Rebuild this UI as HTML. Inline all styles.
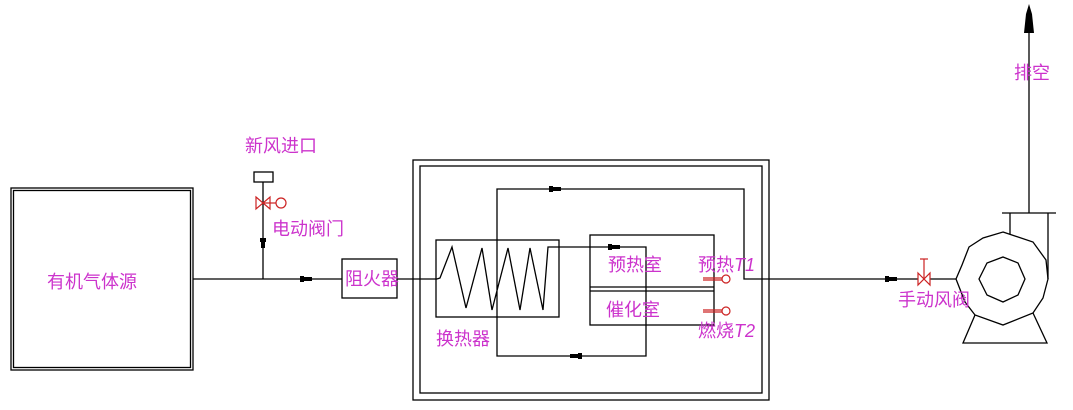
<!DOCTYPE html>
<html><head><meta charset="utf-8"><style>
html,body{margin:0;padding:0;background:#fff;width:1073px;height:410px;overflow:hidden}
text{font-family:"Liberation Sans","Noto Sans CJK SC","WenQuanYi Zen Hei",sans-serif;fill:#cc33cc;font-size:18px}
</style></head><body>
<svg width="1073" height="410" viewBox="0 0 1073 410" xmlns="http://www.w3.org/2000/svg">
<g fill="none" stroke="#000" stroke-width="1.3">
<rect x="11" y="188" width="182" height="182"/>
<rect x="13.5" y="190.5" width="177" height="177"/>
<line x1="193" y1="279" x2="342" y2="279"/>
<rect x="342" y="259" width="55" height="39"/>
<line x1="397" y1="279" x2="437" y2="279"/>
<line x1="263" y1="182" x2="263" y2="279"/>
<rect x="254" y="172" width="19" height="10"/>
<rect x="413" y="160" width="356" height="240"/>
<rect x="420" y="166" width="342" height="227"/>
<rect x="436" y="240" width="123" height="77"/>
<polyline points="437,279 440,278 452,247 466,308 482,248 492,310 508,248 520,310 530,248 543,310 548,247 646,247 646,356 497,356 497,189 744,189 744,279 918,279"/>
<rect x="590" y="235" width="124" height="90"/>
<line x1="590" y1="287" x2="714" y2="287"/>
<line x1="590" y1="291" x2="714" y2="291"/>
<line x1="930" y1="279" x2="956" y2="279"/>
<polygon points="1003,232 1033,242 1046,260 1048,279 1043,298 1033,313 1003,325 975,315 965,302 956,279 962,265 969,247 983,238"/>
<polygon points="1003,257 1018,263 1025,279 1018,295 1003,302 987,295 979,279 987,263"/>
<polyline points="975,315 963,343 1047,343 1033,313"/>
<line x1="1010" y1="213" x2="1010" y2="234"/>
<line x1="1048" y1="213" x2="1048" y2="279"/>
<line x1="1002" y1="213" x2="1056" y2="213"/>
<line x1="1029" y1="20" x2="1029" y2="213"/>
</g>
<polygon points="1029,4 1032,14 1034,33 1024,33 1026,14" fill="#000"/>
<g fill="#000">
<rect x="300" y="277" width="12" height="4"/><rect x="300" y="276" width="4" height="6"/>
<rect x="261" y="238" width="4" height="10"/><rect x="260" y="238" width="6" height="4"/>
<rect x="549" y="187" width="12" height="4"/><rect x="549" y="186" width="4" height="6"/>
<rect x="570" y="354" width="12" height="4"/><rect x="578" y="353" width="4" height="6"/>
<rect x="608" y="245" width="12" height="4"/><rect x="608" y="244" width="4" height="6"/>
<rect x="885" y="277" width="12" height="4"/><rect x="885" y="276" width="4" height="6"/>
</g>
<g fill="none" stroke="#cc2222" stroke-width="1.2">
<polygon points="256,197 270,209 270,197 256,209"/>
<line x1="263" y1="203" x2="276" y2="203"/>
<circle cx="281" cy="203" r="5"/>
<polygon points="918,273 930,285 930,273 918,285"/>
<line x1="924" y1="279" x2="924" y2="259"/>
<line x1="920" y1="259" x2="928" y2="259"/>
<line x1="703" y1="278" x2="722" y2="278"/><line x1="703" y1="280" x2="722" y2="280"/>
<circle cx="726" cy="279" r="4"/>
<line x1="703" y1="310" x2="722" y2="310"/><line x1="703" y1="312" x2="722" y2="312"/>
<circle cx="726" cy="311" r="4"/>
</g>
<text x="47" y="288" font-size="21">有机气体源</text>
<text x="345" y="285">阻火器</text>
<text x="245" y="152">新风进口</text>
<text x="272" y="235">电动阀门</text>
<text x="436" y="345">换热器</text>
<text x="608" y="271">预热室</text>
<text x="606" y="316">催化室</text>
<text x="698" y="271">预热<tspan font-style="italic">T1</tspan></text>
<text x="698" y="337">燃烧<tspan font-style="italic">T2</tspan></text>
<text x="898" y="306">手动风阀</text>
<text x="1014" y="79">排空</text>
</svg>
</body></html>
